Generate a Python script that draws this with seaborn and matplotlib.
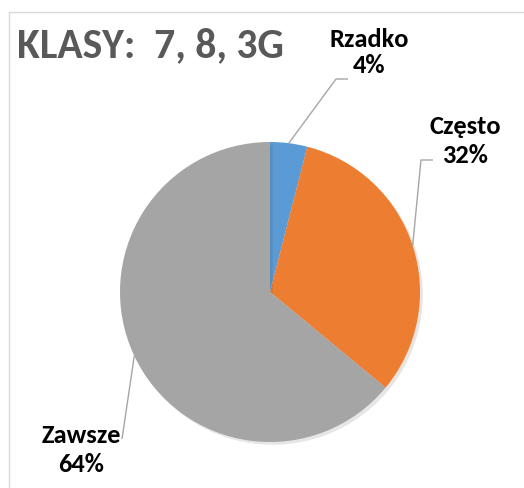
import numpy as np
import matplotlib.pyplot as plt
import matplotlib.patheffects as pe
import seaborn as sns
from matplotlib.patches import Rectangle

# data
categories = ['Rzadko', 'Często', 'Zawsze']
shares = [4, 32, 64]
colors = ['#5B9BD5', '#ED7D31', '#A5A5A5']
title = 'KLASY:  7, 8, 3G'

sns.set_theme(style='white')
plt.rcParams['font.family'] = ['Carlito', 'DejaVu Sans']

W, H = 524, 489
fig = plt.figure(figsize=(W / 100, H / 100), dpi=100)
ax = fig.add_axes([0, 0, 1, 1])

# pie in pixel-like coordinates (y axis inverted below)
center = (270, 293)
radius = 150
wedges, _ = ax.pie(shares, colors=colors, startangle=-90, counterclock=True,
                   center=center, radius=radius, frame=True,
                   wedgeprops=dict(linewidth=0))
for w in wedges:
    w.set_path_effects([pe.SimplePatchShadow(offset=(2, -2), alpha=0.12),
                        pe.Normal()])

ax.set_xlim(0, W)
ax.set_ylim(H, 0)
ax.axis('off')

# label placement: centre x, first/second line baselines, leader end
label_x = [369, 465, 81]
line1_y = [47, 134, 443]
line2_y = [73, 163, 472]
leader_end = [(348, 80), (433, 161), (122, 440)]
elbow = [True, True, False]

for w, cat, val, lx, y1, y2, end, el in zip(wedges, categories, shares, label_x,
                                              line1_y, line2_y, leader_end, elbow):
    mid = np.deg2rad((w.theta1 + w.theta2) / 2)
    sx = center[0] + radius * np.cos(mid)
    sy = center[1] + radius * np.sin(mid)
    if el:
        xs = [sx, end[0] - 12, end[0]]
        ys = [sy, end[1], end[1]]
    else:
        xs = [sx, end[0]]
        ys = [sy, end[1]]
    ax.plot(xs, ys, color='#A6A6A6', lw=1, solid_capstyle='butt')
    ax.text(lx, y1, cat, ha='center', va='baseline', fontsize=19,
            fontweight='bold', color='#000000')
    ax.text(lx, y2, f'{val}%', ha='center', va='baseline', fontsize=19,
            fontweight='bold', color='#000000')

ax.text(17, 57, title, ha='left', va='baseline', fontsize=30,
        fontweight='bold', color='#595959')

# chart area border
fig.patches.append(Rectangle((8.5 / W, -0.1), 1.2, 1 - 12.5 / H + 0.1,
                             transform=fig.transFigure, fill=False,
                             edgecolor='#D9D9D9', lw=1))

fig.savefig('out.png', dpi=100)
